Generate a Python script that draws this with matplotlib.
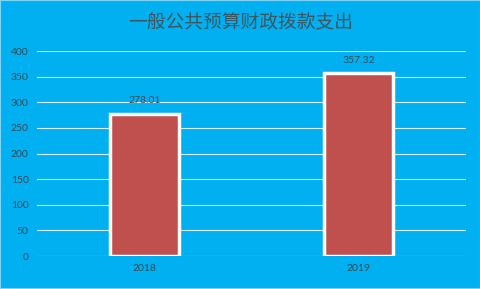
import matplotlib
matplotlib.use("Agg")
import matplotlib.pyplot as plt

categories = ["2018", "2019"]
values = [278.01, 357.32]
labels = ["278.01", "357.32"]
yticks = [0, 50, 100, 150, 200, 250, 300, 350, 400]
title = "一般公共预算财政拨款支出"

plt.rcParams['font.family'] = ['Noto Sans CJK SC', 'DejaVu Sans']

bg = "#00B0F0"
txt = "#3A4A55"
numfont = ['Lato', 'DejaVu Sans']
fig = plt.figure(figsize=(4.81, 2.89), dpi=100, facecolor=bg)
fig.patches.append(plt.Rectangle((0, 0), 1, 1, transform=fig.transFigure,
                                 fill=False, edgecolor="#7FD3F5", linewidth=1.5))
ax = fig.add_axes([37/481, 33/289, 429/481, 205/289])
ax.set_facecolor(bg)
x = range(len(categories))
bars = ax.bar(x, values, width=0.32, color="#C0504D", edgecolor="white", linewidth=2.5, zorder=3)
ax.set_xlim(-0.5, 1.5)
ax.set_ylim(0, 400)
ax.set_yticks(yticks)
ax.set_yticklabels([str(v) for v in yticks], fontsize=7.5, color=txt, family=numfont)
ax.set_xticks(list(x))
ax.set_xticklabels(categories, fontsize=7.5, color=txt, family=numfont)
ax.tick_params(length=0, pad=6)
for s in ax.spines.values():
    s.set_visible(False)
ax.yaxis.grid(True, color="#D8F2FC", linewidth=0.8, zorder=0)
ax.set_axisbelow(True)
for xi, v, lab in zip(x, values, labels):
    ax.annotate(lab, (xi, v), xytext=(0, 6), textcoords="offset points",
                ha="center", va="bottom", fontsize=7.5, color=txt, family=numfont)
fig.text(0.5, 1 - 22/289, title, ha="center", va="center", fontsize=13.5,
         color="#3F5560", fontweight="light")
fig.savefig("out.png", dpi=100, facecolor=bg)
